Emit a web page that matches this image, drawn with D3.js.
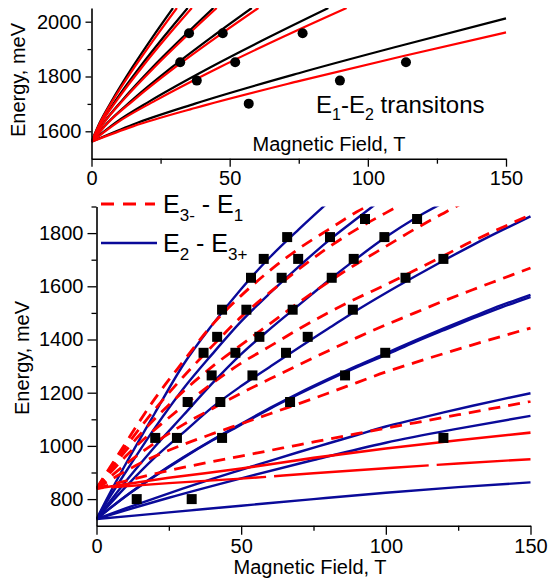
<!DOCTYPE html>
<html><head><meta charset="utf-8">
<script src="https://cdn.jsdelivr.net/npm/d3@7"></script>
<style>
body{margin:0;background:#fff;}
svg{display:block;font-family:"Liberation Sans",Arial,sans-serif;}
</style></head><body>
<svg id="c" width="548" height="582"></svg>
<script>
// ---------- DATA ----------
const xTicks = [0, 50, 100, 150];
const xMinorTicks = [25, 75, 125];
const topYTicks = [1600, 1800, 2000];
const topYMinor = [1700, 1900];
const botYTicks = [800, 1000, 1200, 1400, 1600, 1800];
const botYMinor = [900, 1100, 1300, 1500, 1700, 1900];

// top panel: E1-E2 transitions (black / red pairs)
const topBlack = [
  [[0,1562],[2.95,1631],[7.4,1712],[14.75,1833],[22.1,1944],[29.5,2050]],
  [[0,1562],[3.5,1631],[8.7,1712],[17.4,1833],[26.1,1944],[34.8,2050]],
  [[0,1562],[4.4,1631],[11,1712],[22,1833],[33.1,1944],[44.1,2050]],
  [[0,1562],[5.8,1631],[14.5,1712],[29,1833],[43.5,1944],[58,2050]],
  [[0,1562],[8.6,1631],[21.4,1712],[42.9,1833],[64.3,1944],[85.7,2050]],
  [[0,1562],[15,1625],[37.5,1701],[75,1812],[112.5,1914],[150,2012]]
];
const topRed = [
  [[0,1562],[3.1,1631],[7.7,1712],[15.5,1833],[23.2,1944],[30.9,2050]],
  [[0,1562],[3.6,1631],[9.1,1712],[18.2,1833],[27.2,1944],[36.3,2050]],
  [[0,1562],[4.5,1631],[11.3,1712],[22.7,1833],[34,1944],[45.3,2050]],
  [[0,1562],[6,1631],[15.1,1712],[30.2,1833],[45.3,1944],[60.4,2050]],
  [[0,1562],[9.2,1631],[23.1,1712],[46.2,1833],[69.2,1944],[92.3,2050]],
  [[0,1562],[15,1618],[37.5,1685],[75,1783],[112.5,1874],[150,1961]]
];
const topDotB = [35.3, 47.5, 76.4, 32.1, 52, 113.8, 38.1, 89.9, 56.9];
const topDotE = [1958, 1958, 1958, 1852, 1852, 1852, 1785, 1785, 1701];

// bottom panel: E2 - E3+ (blue solid)
const blueLines = [
  [[0,725],[5,830],[10,930],[20,1120],[30,1305],[40,1455],[50,1590],[60,1710],[70,1815],[80,1915]],
  [[0,725],[5,815],[10,900],[20,1065],[30,1215],[40,1345],[50,1468],[60,1575],[70,1675],[80,1770],[90,1855],[96,1905]],
  [[0,725],[10,865],[20,995],[30,1115],[40,1235],[50,1345],[60,1440],[70,1530],[80,1620],[90,1705],[100,1785],[110,1855],[120,1915]],
  [[0,725],[10,845],[20,955],[30,1050],[40,1145],[50,1225],[60,1298],[70,1370],[80,1440],[90,1510],[100,1575],[110,1637],[120,1697],[130,1755],[140,1810],[150,1863]],
  [[0,725],[10,810],[20,885],[30,955],[40,1020],[50,1080],[60,1140],[70,1195],[80,1247],[90,1296],[100,1342],[110,1390],[120,1435],[130,1479],[140,1521],[150,1560]],
  [[0,725],[10,811],[20,887],[30,957],[40,1022],[50,1083],[60,1143],[70,1199],[80,1251],[90,1301],[100,1348],[110,1396],[120,1442],[130,1486],[140,1529],[150,1568]],
  [[0,725],[10,765],[20,803],[30,840],[40,876],[50,910],[60,944],[70,977],[80,1009],[90,1041],[100,1073],[110,1100],[120,1126],[130,1151],[140,1175],[150,1198]],
  [[0,725],[25,805],[50,878],[75,947],[100,1012],[125,1065],[150,1113]],
  [[0,725],[25,750],[50,775],[75,800],[100,824],[125,845],[150,863]]
];
// bottom panel: E3- - E1 (red dashed)
const redDashed = [
  [[0,840],[5,925],[10,1010],[20,1175],[30,1318],[40,1455],[50,1565],[60,1660],[70,1742],[80,1812],[90,1880],[96,1915]],
  [[0,840],[5,920],[10,995],[20,1135],[30,1260],[40,1375],[50,1485],[60,1578],[70,1665],[80,1745],[90,1815],[100,1876],[106,1912]],
  [[0,840],[10,980],[20,1100],[30,1205],[40,1298],[50,1380],[60,1460],[70,1540],[80,1615],[90,1685],[100,1750],[110,1815],[120,1875],[126,1910]],
  [[0,840],[10,960],[20,1060],[30,1150],[40,1235],[50,1311],[60,1375],[70,1440],[80,1500],[90,1555],[100,1606],[110,1660],[120,1715],[130,1770],[140,1820],[150,1869]],
  [[0,840],[10,930],[20,1010],[30,1080],[40,1140],[50,1198],[60,1252],[70,1305],[80,1357],[90,1407],[100,1455],[110,1500],[120,1545],[130,1587],[140,1628],[150,1669]],
  [[0,840],[10,905],[20,960],[30,1005],[40,1045],[50,1083],[60,1121],[70,1159],[80,1198],[90,1238],[100,1278],[110,1313],[120,1347],[130,1380],[140,1412],[150,1443]],
  [[0,840],[10,868],[20,895],[30,919],[40,941],[50,962],[60,983],[70,1004],[80,1025],[90,1046],[100,1067],[110,1087],[120,1107],[130,1127],[140,1147],[150,1167]]
];
const redSolid = [[0,840],[25,880],[50,915],[75,955],[100,990],[125,1021],[150,1050]];
const redLongDash = [[0,840],[25,860],[50,877],[75,897],[100,916],[125,934],[150,950]];

const sqB = [13.9,32.9, 20.3,27.8,43.4,119.9, 31.5,42.8,66.9, 39.8,53.9,85.9, 37.0,48.0,65.5,99.8,
             41.7,56.3,73.0, 43.4,51.8,67.8,88.6, 53.4,64.0,81.3,106.8, 57.8,69.7,88.9,119.9, 65.9,80.7,99.5, 92.8,110.8];
const sqE = [800,800, 1030,1030,1030,1030, 1165,1165,1165, 1265,1265,1265, 1350,1350,1350,1350,
             1410,1410,1410, 1512,1512,1512,1512, 1632,1632,1632,1632, 1703,1703,1703,1703, 1785,1785,1785, 1853,1853];

// ---------- DRAW ----------
const svg = d3.select("#c");
const BLUE = "#0a0a99", RED = "#ff0000";
const FONT = 20;
const fmt = d3.format("d");

function panel(cfg) {
  const x = d3.scaleLinear().domain([0,150]).range(cfg.xr);
  const y = d3.scaleLinear().domain(cfg.yd).range(cfg.yr);
  const g = svg.append("g");
  const clipId = "clip" + cfg.id;
  svg.append("clipPath").attr("id", clipId).append("rect")
    .attr("x", cfg.xr[0]).attr("y", cfg.yr[1]).attr("width", cfg.xr[1]-cfg.xr[0]+2).attr("height", cfg.yr[0]-cfg.yr[1]);
  const plot = g.append("g").attr("clip-path", `url(#${clipId})`);
  const xa = g.append("g").attr("transform", `translate(0,${cfg.yr[0]})`);
  xa.call(d3.axisBottom(x).tickValues(xTicks).tickFormat(fmt).tickSize(cfg.tkMaj).tickSizeOuter(0).tickPadding(4));
  xa.append("g").call(d3.axisBottom(x).tickValues(xMinorTicks).tickSize(cfg.tkMin).tickFormat("")).select(".domain").remove();
  const ya = g.append("g").attr("transform", `translate(${cfg.xr[0]},0)`);
  ya.call(d3.axisLeft(y).tickValues(cfg.yt).tickFormat(fmt).tickSize(cfg.tkMajY).tickSizeOuter(0).tickPadding(cfg.ypad));
  ya.append("g").call(d3.axisLeft(y).tickValues(cfg.ym).tickSize(cfg.tkMinY).tickFormat("")).select(".domain").remove();
  [xa, ya].forEach(a => {
    a.selectAll(".domain").attr("stroke", "#000").attr("stroke-width", 1.6);
    a.selectAll(".tick line").attr("stroke", "#000").attr("stroke-width", 1.3);
    a.selectAll("text").attr("font-size", FONT).attr("fill", "#000").attr("font-family", "Liberation Sans, Arial, sans-serif");
  });
  return {x, y, plot, g};
}

const line = (x, y) => d3.line().x(d => x(d[0])).y(d => y(d[1])).curve(d3.curveMonotoneX);

// TOP PANEL
const T = panel({id: "t", xr: [91.5, 506], yd: [1500, 2050], yr: [158.7, 8], yt: topYTicks, ym: topYMinor,
                 tkMaj: 8, tkMin: 5, tkMajY: 6, tkMinY: 4, ypad: 4});
const lt = line(T.x, T.y);
topBlack.forEach(s => T.plot.append("path").attr("d", lt(s)).attr("fill", "none").attr("stroke", "#000").attr("stroke-width", 2.2));
topRed.forEach(s => T.plot.append("path").attr("d", lt(s)).attr("fill", "none").attr("stroke", RED).attr("stroke-width", 2.2));
T.plot.selectAll("circle.d").data(topDotB.map((b,i)=>[b, topDotE[i]])).enter().append("circle")
  .attr("cx", d => T.x(d[0])).attr("cy", d => T.y(d[1])).attr("r", 5).attr("fill", "#000");
T.g.append("text").attr("x", 18).attr("y", 80).attr("transform", "rotate(-90,18,80)").attr("text-anchor", "middle")
  .attr("dy", "0.35em").attr("font-size", 20).text("Energy, meV");
T.g.append("text").attr("x", 329).attr("y", 150.5).attr("text-anchor", "middle").attr("font-size", 20).text("Magnetic Field, T");
const tt = T.g.append("text").attr("x", 316).attr("y", 112.5).attr("font-size", 24);
tt.append("tspan").text("E");
tt.append("tspan").attr("font-size", 16).attr("dy", 7).text("1");
tt.append("tspan").attr("dy", -7).text("-E");
tt.append("tspan").attr("font-size", 16).attr("dy", 7).text("2");
tt.append("tspan").attr("dy", -7).text(" transitons");

// BOTTOM PANEL
const B = panel({id: "b", xr: [96.5, 530.5], yd: [700, 1900], yr: [525.7, 206.5], yt: botYTicks, ym: botYMinor,
                 tkMaj: 9, tkMin: 5, tkMajY: 9, tkMinY: 5, ypad: 4});
const lb = line(B.x, B.y);
blueLines.forEach(s => B.plot.append("path").attr("d", lb(s)).attr("fill", "none").attr("stroke", BLUE).attr("stroke-width", 2.4));
B.plot.append("path").attr("d", lb(redSolid)).attr("fill", "none").attr("stroke", RED).attr("stroke-width", 2.6);
B.plot.append("path").attr("d", lb(redLongDash)).attr("fill", "none").attr("stroke", RED).attr("stroke-width", 2.4)
  .attr("stroke-dasharray", "155,8").attr("stroke-dashoffset", -15);
redDashed.forEach(s => B.plot.append("path").attr("d", lb(s)).attr("fill", "none").attr("stroke", RED).attr("stroke-width", 2.8).attr("stroke-dasharray", "12,8"));
B.plot.selectAll("rect.s").data(sqB.map((b,i)=>[b, sqE[i]])).enter().append("rect")
  .attr("x", d => B.x(d[0]) - 5).attr("y", d => B.y(d[1]) - 5).attr("width", 10).attr("height", 10).attr("fill", "#000");
B.g.append("text").attr("x", 22).attr("y", 358).attr("transform", "rotate(-90,22,358)").attr("text-anchor", "middle")
  .attr("dy", "0.35em").attr("font-size", 20).text("Energy, meV");
B.g.append("text").attr("x", 310).attr("y", 574).attr("text-anchor", "middle").attr("font-size", 20).text("Magnetic Field, T");

// legend
const L = svg.append("g");
L.append("line").attr("x1", 101).attr("x2", 155).attr("y1", 204).attr("y2", 204).attr("stroke", RED).attr("stroke-width", 2.8).attr("stroke-dasharray", "13,9");
L.append("line").attr("x1", 101).attr("x2", 157).attr("y1", 243).attr("y2", 243).attr("stroke", BLUE).attr("stroke-width", 2.6);
const l1 = L.append("text").attr("x", 163).attr("y", 213).attr("font-size", 25);
l1.append("tspan").text("E");
l1.append("tspan").attr("font-size", 17).attr("dy", 8).text("3-");
l1.append("tspan").attr("dy", -8).text(" - E");
l1.append("tspan").attr("font-size", 17).attr("dy", 8).text("1");
const l2 = L.append("text").attr("x", 163).attr("y", 252).attr("font-size", 25);
l2.append("tspan").text("E");
l2.append("tspan").attr("font-size", 17).attr("dy", 8).text("2");
l2.append("tspan").attr("dy", -8).text(" - E");
l2.append("tspan").attr("font-size", 17).attr("dy", 8).text("3+");
</script>
</body></html>
